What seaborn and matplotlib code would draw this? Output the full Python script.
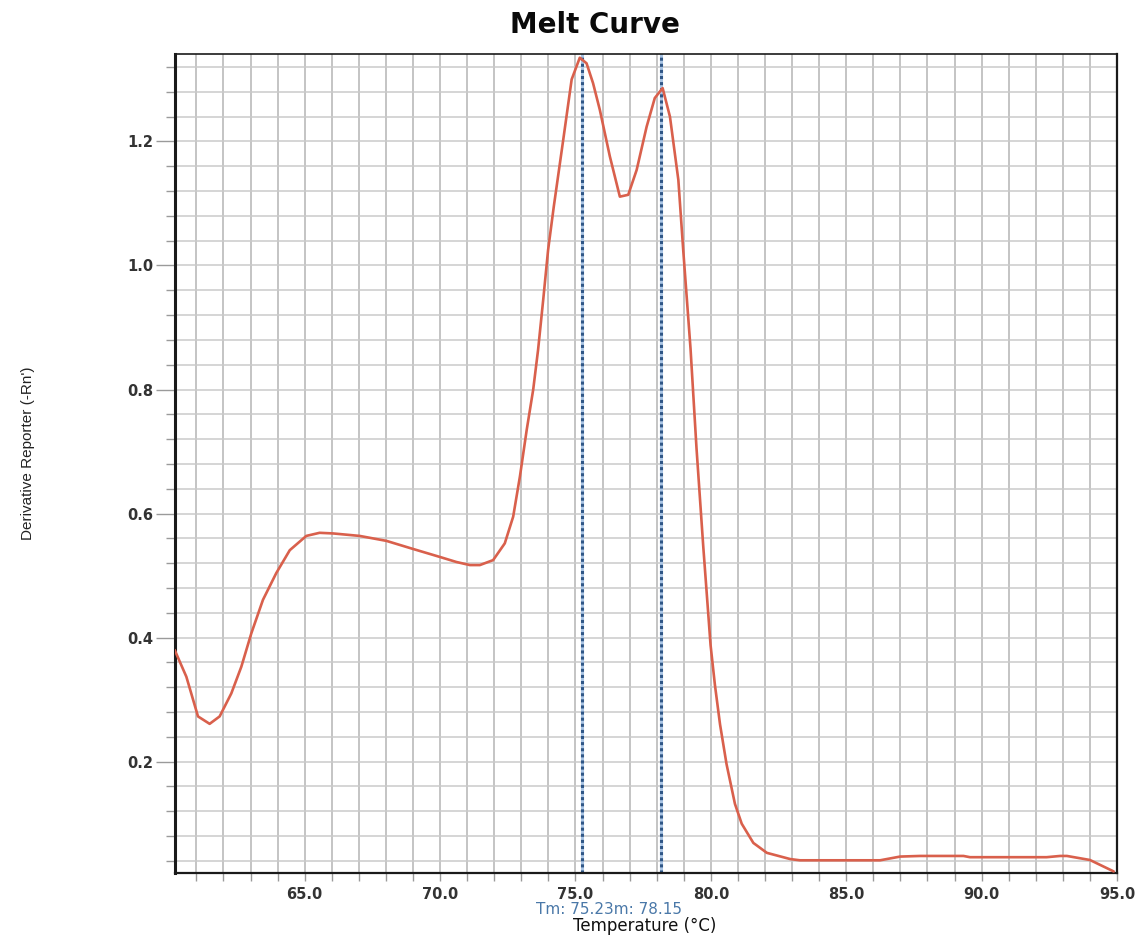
import matplotlib
matplotlib.use("Agg")
import matplotlib.pyplot as plt
import pandas as pd
import seaborn as sns
from matplotlib.ticker import MultipleLocator, FormatStrFormatter

# melt curve: temperature (degC) vs derivative reporter
temperature = [
    60.20, 60.63, 61.06, 61.49, 61.86, 62.29, 62.66, 63.03, 63.46, 63.95,
    64.45, 65.06, 65.55, 66.05, 67.03, 68.02, 69.00, 70.00, 70.60, 71.10,
    71.47, 71.96, 72.39, 72.70, 72.95, 73.20, 73.44, 73.62, 73.81, 73.99,
    74.20, 74.55, 74.86, 75.16, 75.41, 75.65, 75.90, 76.27, 76.64, 76.95,
    77.26, 77.63, 77.93, 78.22, 78.49, 78.80, 78.98, 79.25, 79.47, 79.72,
    79.99, 80.15, 80.34, 80.58, 80.89, 81.14, 81.57, 82.07, 82.93, 83.29,
    84.00, 85.00, 86.25, 86.99, 87.73, 89.33, 89.57, 92.40, 92.90, 93.15,
    94.00, 94.88,
]
derivative = [
    0.380, 0.337, 0.273, 0.261, 0.273, 0.310, 0.353, 0.407, 0.461, 0.504,
    0.541, 0.564, 0.569, 0.568, 0.564, 0.556, 0.543, 0.530, 0.522, 0.517,
    0.517, 0.525, 0.552, 0.595, 0.660, 0.735, 0.800, 0.864, 0.945, 1.025,
    1.095, 1.203, 1.300, 1.335, 1.326, 1.294, 1.251, 1.176, 1.111, 1.114,
    1.154, 1.224, 1.270, 1.286, 1.240, 1.138, 1.025, 0.866, 0.706, 0.547,
    0.388, 0.324, 0.260, 0.196, 0.132, 0.100, 0.069, 0.053, 0.043, 0.041,
    0.041, 0.041, 0.041, 0.047, 0.048, 0.048, 0.046, 0.046, 0.048, 0.048,
    0.0415, 0.023,
]
tm_values = [75.23, 78.15]

W, H = 1138, 936

sns.set_style("white")
plt.rcParams["font.family"] = ["DejaVu Sans"]

df = pd.DataFrame({"temperature": temperature, "derivative": derivative})

fig = plt.figure(figsize=(W / 100, H / 100), dpi=100)
ax = fig.add_axes([174.7 / W, 1 - 872.7 / H, (1117 - 174.7) / W, (872.7 - 54) / H])

ax.set_xlim(60.2, 95.0)
ax.set_ylim(0.021, 1.341)

ax.xaxis.set_major_locator(MultipleLocator(5))
ax.xaxis.set_minor_locator(MultipleLocator(1))
ax.yaxis.set_major_locator(MultipleLocator(0.2))
ax.yaxis.set_minor_locator(MultipleLocator(0.04))
ax.xaxis.set_major_formatter(FormatStrFormatter("%.1f"))
ax.yaxis.set_major_formatter(FormatStrFormatter("%.1f"))

ax.grid(True, which="both", axis="x", color="#c4c4c4", linewidth=1.4)
ax.grid(True, which="both", axis="y", color="#cacaca", linewidth=1.1)
ax.set_axisbelow(True)

for t in tm_values:
    ax.axvline(t, color="#a9c4e4", linewidth=2.2, zorder=2)
    ax.axvline(t, color="#2f5686", linewidth=2.2, linestyle=(0, (1, 1)), zorder=2)

sns.lineplot(data=df, x="temperature", y="derivative", ax=ax,
             color="#d9604c", linewidth=1.9, zorder=3)

ax.set_xlabel("")
ax.set_ylabel("")

ax.tick_params(axis="x", which="both", direction="out", length=6, width=1,
               color="#9a9a9a", bottom=True, pad=4)
ax.tick_params(axis="y", which="major", direction="out", length=13.5, width=1,
               color="#9a9a9a", left=True, pad=2)
ax.tick_params(axis="y", which="minor", direction="out", length=6.5, width=1,
               color="#9a9a9a", left=True)
for lab in ax.get_xticklabels() + ax.get_yticklabels():
    lab.set_fontsize(10.5)
    lab.set_fontweight("bold")
    lab.set_color("#333333")

for side, lw in [("left", 2.2), ("bottom", 1.6), ("top", 1.2), ("right", 1.6)]:
    ax.spines[side].set_visible(True)
    ax.spines[side].set_color("#1a1a1a")
    ax.spines[side].set_linewidth(lw)

fig.text(595 / W, 1 - 25 / H, "Melt Curve", ha="center", va="center",
         fontsize=20, fontweight="heavy", color="#0a0a0a")
fig.text(28 / W, 1 - 453 / H, "Derivative Reporter (-Rn')", rotation=90,
         ha="center", va="center", fontsize=11, color="#222222",
         family=["Liberation Sans Narrow", "Liberation Sans", "DejaVu Sans"])
fig.text(536 / W, 1 - 910 / H, "Tm: 75.23m: 78.15", ha="left", va="center",
         fontsize=11, color="#4a78a8")
fig.text(645 / W, 1 - 926 / H, "Temperature (°C)", ha="center", va="center",
         fontsize=12, color="#111111")

fig.savefig("out.png", dpi=100)
plt.close(fig)
